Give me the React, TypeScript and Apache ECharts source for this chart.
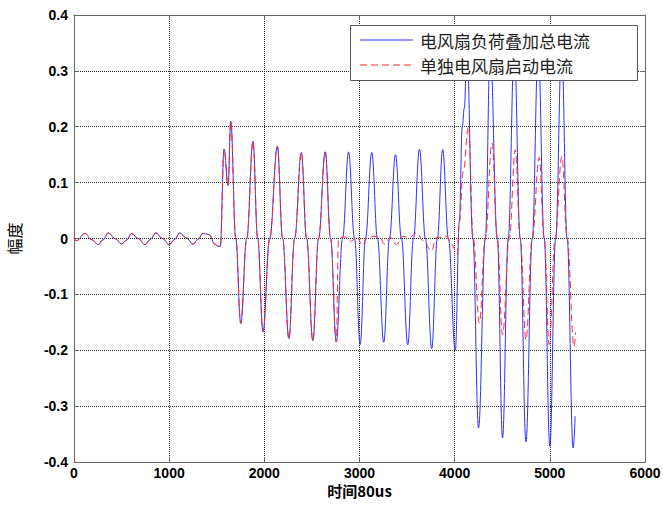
import React, { useEffect, useRef } from "react";
import * as echarts from "echarts";

// Shared part of both currents (they overlap until ~2756)
const commonX = [0, 25, 115, 185, 255, 300, 360, 430, 500, 550, 605, 675, 745, 800, 860, 930, 1000, 1055, 1112, 1180, 1251, 1300, 1356, 1420, 1479, 1514, 1537, 1577, 1619, 1647, 1700, 1752, 1815, 1881, 1930, 1986, 2056, 2137, 2192, 2258, 2318, 2389, 2444, 2510, 2570, 2640, 2696, 2756];
const commonY = [0, -0.004, 0.009, -0.002, -0.011, -0.003, 0.01, 0.0, -0.01, -0.003, 0.009, 0.0, -0.011, -0.002, 0.01, 0.0, -0.011, -0.002, 0.01, 0.001, -0.01, -0.002, 0.009, 0.007, -0.01, -0.014, -0.014, 0.16, 0.095, 0.21, 0.0, -0.152, 0.0, 0.174, 0.0, -0.167, 0.0, 0.165, 0.0, -0.179, 0.0, 0.154, 0.0, -0.183, 0.0, 0.155, 0.0, -0.185];

// Total current (fan load superimposed), after the shared part
const blueTailX = [2822, 2885, 2948, 3007, 3063, 3129, 3189, 3255, 3315, 3378, 3441, 3507, 3567, 3630, 3693, 3759, 3818, 3874, 3934, 4007, 4049, 4080, 4102, 4128, 4191, 4251, 4322, 4374, 4448, 4503, 4563, 4626, 4689, 4749, 4815, 4878, 4941, 5000, 5061, 5124, 5182, 5245, 5266];
const blueTailY = [0.0, 0.155, 0.0, -0.19, 0.0, 0.154, 0.0, -0.186, 0.0, 0.15, 0.0, -0.19, 0.0, 0.16, 0.0, -0.197, 0.0, 0.159, 0.0, -0.2, 0.03, 0.2, 0.234, 0.34, 0.0, -0.339, 0.0, 0.34, 0.0, -0.357, 0.0, 0.34, 0.0, -0.364, 0.0, 0.34, 0.0, -0.372, 0.0, 0.34, 0.0, -0.375, -0.318];

// Single fan start-up current, after the shared part
const redTailX = [2780, 2843, 2916, 2969, 3032, 3084, 3157, 3210, 3262, 3325, 3388, 3451, 3525, 3598, 3671, 3755, 3808, 3860, 3913, 3965, 4028, 4049, 4090, 4145, 4196, 4259, 4322, 4392, 4448, 4503, 4574, 4637, 4689, 4749, 4815, 4888, 4941, 4993, 5056, 5126, 5182, 5255, 5271];
const redTailY = [0.0, 0.003, -0.005, 0.004, -0.012, 0.002, 0.004, 0.002, -0.01, 0.002, -0.011, 0.004, 0.002, 0.01, -0.004, -0.022, 0.002, 0.002, 0.004, -0.01, -0.028, 0.03, 0.12, 0.2, 0.0, -0.151, 0.0, 0.171, 0.0, -0.172, 0.0, 0.159, 0.0, -0.181, 0.0, 0.145, 0.0, -0.19, 0.0, 0.147, 0.0, -0.193, -0.168];

const seriesNames = ["电风扇负荷叠加总电流", "单独电风扇启动电流"];
const xName = "时间80us";
const yName = "幅度";

const BLUE = "#2f2fff";
const RED = "#ff2a2a";

function zip(xs: number[], ys: number[]) {
  return xs.map((x, i) => [x, ys[i]]);
}

export default function App() {
  const ref = useRef<HTMLDivElement>(null);
  useEffect(() => {
    if (!ref.current) return;
    const chart = echarts.init(ref.current, undefined, { renderer: "svg" });
    const blueData = zip(commonX, commonY).concat(zip(blueTailX, blueTailY));
    const redData = zip(commonX, commonY).concat(zip(redTailX, redTailY));
    const labelFont = {
      fontFamily: "Liberation Sans, Arial, sans-serif",
      fontWeight: "bold" as const,
      fontSize: 14,
      color: "#000",
    };
    const gridLine = { show: true, lineStyle: { color: "#222", type: "dotted" as const, width: 1 } };
    const tick = { show: true, inside: true, length: 5, lineStyle: { color: "#666" } };
    const axLine = { show: true, onZero: false, lineStyle: { color: "#666" } };
    const legendFont = "17px 'Noto Sans CJK SC', sans-serif";
    const LZ = 100;
    chart.setOption({
      animation: false,
      backgroundColor: "#fff",
      grid: {
        left: 74,
        right: 18,
        top: 15,
        bottom: 45,
        show: false,
        containLabel: false,
        outerBoundsMode: "none",
      },
      xAxis: [
        {
          type: "value",
          min: 0,
          max: 6000,
          interval: 1000,
          name: xName,
          nameLocation: "middle",
          nameGap: 21,
          nameMoveOverlap: false,
          nameTextStyle: {
            fontFamily: "Noto Sans CJK SC, Liberation Sans, sans-serif",
            fontWeight: "bold",
            fontSize: 15,
            color: "#000",
          },
          axisLine: axLine,
          axisTick: tick,
          axisLabel: { ...labelFont, margin: 4, formatter: (v: number) => String(v) },
          splitLine: gridLine,
        },
        {
          type: "value",
          position: "top",
          min: 0,
          max: 6000,
          interval: 1000,
          axisLine: axLine,
          axisTick: tick,
          axisLabel: { show: false },
          splitLine: { show: false },
        },
      ],
      yAxis: [
        {
          type: "value",
          min: -0.4,
          max: 0.4,
          interval: 0.1,
          name: yName,
          nameLocation: "middle",
          nameGap: 52,
          nameRotate: 90,
          nameMoveOverlap: false,
          nameTextStyle: {
            fontFamily: "Noto Sans CJK SC, sans-serif",
            fontSize: 16,
            color: "#000",
          },
          axisLine: axLine,
          axisTick: tick,
          axisLabel: {
            ...labelFont,
            margin: 6,
            formatter: (v: number) => String(Math.round(v * 10) / 10),
          },
          splitLine: gridLine,
        },
        {
          type: "value",
          position: "right",
          min: -0.4,
          max: 0.4,
          interval: 0.1,
          axisLine: axLine,
          axisTick: tick,
          axisLabel: { show: false },
          splitLine: { show: false },
        },
      ],
      graphic: [
        {
          type: "rect",
          left: 350,
          top: 25,
          z: LZ,
          zlevel: 1,
          shape: { x: 0, y: 0, width: 287, height: 55 },
          style: { fill: "#fff", stroke: "#555", lineWidth: 1 },
        },
        {
          type: "line",
          z: LZ + 1,
          zlevel: 1,
          shape: { x1: 360, y1: 40, x2: 413, y2: 40 },
          style: { stroke: BLUE, lineWidth: 1 },
        },
        {
          type: "line",
          z: LZ + 1,
          zlevel: 1,
          shape: { x1: 360, y1: 65, x2: 413, y2: 65 },
          style: { stroke: RED, lineWidth: 1, lineDash: [7, 4] },
        },
        {
          type: "text",
          z: LZ + 1,
          zlevel: 1,
          x: 420,
          y: 40,
          style: { text: seriesNames[0], font: legendFont, lineHeight: 19, fill: "#222", verticalAlign: "middle", align: "left" },
        },
        {
          type: "text",
          z: LZ + 1,
          zlevel: 1,
          x: 420,
          y: 65,
          style: { text: seriesNames[1], font: legendFont, lineHeight: 19, fill: "#222", verticalAlign: "middle", align: "left" },
        },
      ],
      series: [
        {
          name: seriesNames[0],
          type: "line",
          xAxisIndex: 0,
          yAxisIndex: 0,
          data: blueData,
          showSymbol: false,
          symbol: "none",
          smooth: 0.4,
          smoothMonotone: "x",
          lineStyle: { color: BLUE, width: 1 },
          itemStyle: { color: BLUE },
          z: 2,
        },
        {
          name: seriesNames[1],
          type: "line",
          xAxisIndex: 0,
          yAxisIndex: 0,
          data: redData,
          showSymbol: false,
          symbol: "none",
          smooth: 0.4,
          smoothMonotone: "x",
          lineStyle: { color: RED, width: 1, type: [7, 4] },
          itemStyle: { color: RED },
          z: 3,
        },
      ],
    });
    return () => chart.dispose();
  }, []);
  return (
    <div
      ref={ref}
      style={{ position: "fixed", left: 0, top: 0, width: 663, height: 507, background: "#fff" }}
    />
  );
}
